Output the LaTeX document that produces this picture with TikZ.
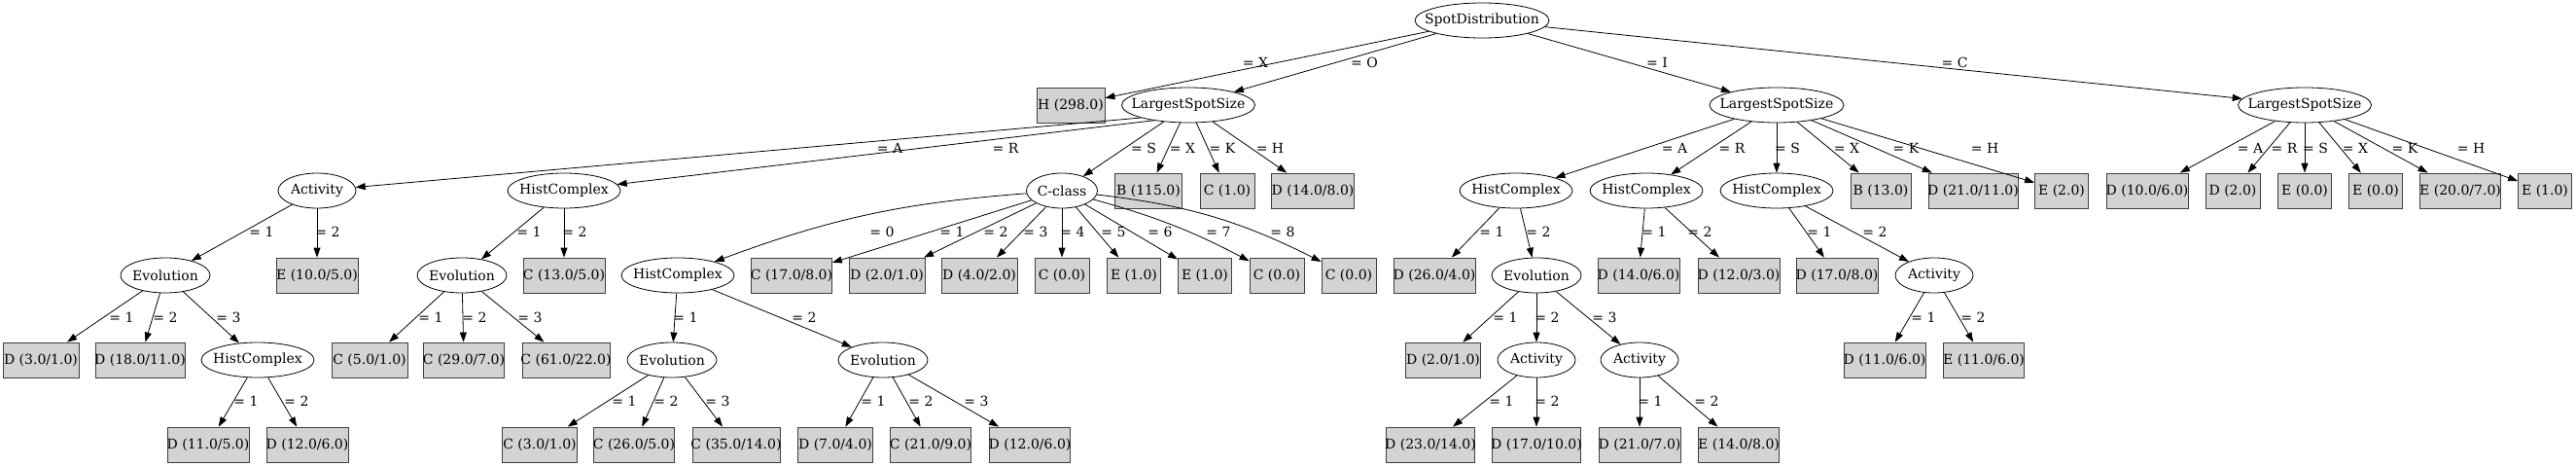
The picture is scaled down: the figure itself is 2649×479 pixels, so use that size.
\documentclass[tikz,border=0pt]{standalone}
\usepackage{fontspec}
\setmainfont{DejaVu Serif}
\usetikzlibrary{arrows.meta,shapes.geometric,positioning}
\definecolor{leafgrey}{HTML}{D3D3D3}

\begin{document}
\begin{tikzpicture}[x=1pt,y=-1pt,font=\fontsize{14}{17}\selectfont,
  attr/.style={draw,ellipse,minimum width=#1,minimum height=36pt,inner sep=0pt,line width=0.8pt},
  leaf/.style={draw=black!75,fill=leafgrey,rectangle,minimum width=#1,minimum height=36pt,inner sep=0pt,line width=0.8pt},
  edge/.style={-{Triangle[length=10pt,width=7pt]},line width=0.8pt},
  elab/.style={inner sep=0pt}]
  \useasboundingbox (0,0) rectangle (2649,479);

  % root and second rank
  \node[attr=138pt,label=center:SpotDistribution] (sd) at (1524,21) {};
  \node[leaf=70pt,label={center:H (298.0)}] (hA) at (1101,108) {};
  \node[attr=137pt,label=center:LargestSpotSize] (lssO) at (1222,108) {};
  \node[attr=138pt,label=center:LargestSpotSize] (lssI) at (1827,108) {};
  \node[attr=137pt,label=center:LargestSpotSize] (lssC) at (2370,108) {};

  % third rank
  \node[attr=80pt,label=center:Activity] (act1) at (326,196) {};
  \node[attr=116pt,label=center:HistComplex] (hc1) at (580,196) {};
  \node[attr=73pt,label=center:C-class] (cc) at (1092,196) {};
  \node[leaf=69pt,label={center:B (115.0)}] (b1) at (1181,196) {};
  \node[leaf=56pt,label={center:C (1.0)}] (c1) at (1262,196) {};
  \node[leaf=85pt,label={center:D (14.0/8.0)}] (d1) at (1350,196) {};
  \node[attr=116pt,label=center:HistComplex] (hc2) at (1559,196) {};
  \node[attr=116pt,label=center:HistComplex] (hc3) at (1693,196) {};
  \node[attr=116pt,label=center:HistComplex] (hc4) at (1827,196) {};
  \node[leaf=62pt,label={center:B (13.0)}] (b2) at (1934,196) {};
  \node[leaf=92pt,label={center:D (21.0/11.0)}] (d2) at (2029,196) {};
  \node[leaf=55pt,label={center:E (2.0)}] (e1) at (2120,196) {};
  \node[leaf=84pt,label={center:D (10.0/6.0)}] (d3) at (2208,196) {};
  \node[leaf=56pt,label={center:D (2.0)}] (d4) at (2296,196) {};
  \node[leaf=55pt,label={center:E (0.0)}] (e2) at (2370,196) {};
  \node[leaf=55pt,label={center:E (0.0)}] (e3) at (2443,196) {};
  \node[leaf=83pt,label={center:E (20.0/7.0)}] (e4) at (2530,196) {};
  \node[leaf=55pt,label={center:E (1.0)}] (e5) at (2617,196) {};

  % fourth rank
  \node[attr=92pt,label=center:Evolution] (ev1) at (170,283) {};
  \node[leaf=84pt,label={center:E (10.0/5.0)}] (e6) at (326,283) {};
  \node[attr=92pt,label=center:Evolution] (ev2) at (475,283) {};
  \node[leaf=84pt,label={center:C (13.0/5.0)}] (c2) at (580,283) {};
  \node[attr=116pt,label=center:HistComplex] (hc5) at (697,283) {};
  \node[leaf=83pt,label={center:C (17.0/8.0)}] (c3) at (814,283) {};
  \node[leaf=78pt,label={center:D (2.0/1.0)}] (d5) at (912,283) {};
  \node[leaf=78pt,label={center:D (4.0/2.0)}] (d6) at (1007,283) {};
  \node[leaf=56pt,label={center:C (0.0)}] (c4) at (1092,283) {};
  \node[leaf=55pt,label={center:E (1.0)}] (e7) at (1166,283) {};
  \node[leaf=55pt,label={center:E (1.0)}] (e8) at (1239,283) {};
  \node[leaf=56pt,label={center:C (0.0)}] (c5) at (1313,283) {};
  \node[leaf=56pt,label={center:C (0.0)}] (c6) at (1387,283) {};
  \node[leaf=84pt,label={center:D (26.0/4.0)}] (d7) at (1475,283) {};
  \node[attr=92pt,label=center:Evolution] (ev3) at (1580,283) {};
  \node[leaf=84pt,label={center:D (14.0/6.0)}] (d8) at (1685,283) {};
  \node[leaf=84pt,label={center:D (12.0/3.0)}] (d9) at (1788,283) {};
  \node[leaf=84pt,label={center:D (17.0/8.0)}] (d10) at (1889,283) {};
  \node[attr=80pt,label=center:Activity] (act2) at (1989,283) {};

  % fifth rank
  \node[leaf=78pt,label={center:D (3.0/1.0)}] (d11) at (42,370) {};
  \node[leaf=92pt,label={center:D (18.0/11.0)}] (d12) at (144,370) {};
  \node[attr=116pt,label=center:HistComplex] (hc6) at (265,370) {};
  \node[leaf=78pt,label={center:C (5.0/1.0)}] (c7) at (380,370) {};
  \node[leaf=83pt,label={center:C (29.0/7.0)}] (c8) at (477,370) {};
  \node[leaf=90pt,label={center:C (61.0/22.0)}] (c9) at (582,370) {};
  \node[attr=92pt,label=center:Evolution] (ev4) at (691,370) {};
  \node[attr=92pt,label=center:Evolution] (ev5) at (908,370) {};
  \node[leaf=77pt,label={center:D (2.0/1.0)}] (d13) at (1484,370) {};
  \node[attr=80pt,label=center:Activity] (act3) at (1580,370) {};
  \node[attr=80pt,label=center:Activity] (act4) at (1686,370) {};
  \node[leaf=84pt,label={center:D (11.0/6.0)}] (d14) at (1938,370) {};
  \node[leaf=83pt,label={center:E (11.0/6.0)}] (e9) at (2040,370) {};

  % sixth rank
  \node[leaf=84pt,label={center:D (11.0/5.0)}] (d15) at (214,457) {};
  \node[leaf=84pt,label={center:D (12.0/6.0)}] (d16) at (316,457) {};
  \node[leaf=77pt,label={center:C (3.0/1.0)}] (c10) at (555,457) {};
  \node[leaf=83pt,label={center:C (26.0/5.0)}] (c11) at (652,457) {};
  \node[leaf=90pt,label={center:C (35.0/14.0)}] (c12) at (757,457) {};
  \node[leaf=77pt,label={center:D (7.0/4.0)}] (d17) at (859,457) {};
  \node[leaf=83pt,label={center:C (21.0/9.0)}] (c13) at (957,457) {};
  \node[leaf=83pt,label={center:D (12.0/6.0)}] (d18) at (1059,457) {};
  \node[leaf=91pt,label={center:D (23.0/14.0)}] (d19) at (1471,457) {};
  \node[leaf=91pt,label={center:D (17.0/10.0)}] (d20) at (1580,457) {};
  \node[leaf=84pt,label={center:D (21.0/7.0)}] (d21) at (1686,457) {};
  \node[leaf=83pt,label={center:E (14.0/8.0)}] (e10) at (1788,457) {};

  % edges from the root
  \draw[edge] (sd) -- (hA) node[elab] at (1291,64) {= X};
  \draw[edge] (sd) -- (lssO) node[elab] at (1403,64) {= O};
  \draw[edge] (sd) -- (lssI) node[elab] at (1704,64) {= I};
  \draw[edge] (sd) -- (lssC) node[elab] at (2010,64) {= C};

  % LargestSpotSize branches
  \draw[edge] (lssO.195) -- (act1) node[elab] at (915,152) {= A};
  \draw[edge] (lssO.204) -- (hc1) node[elab] at (1034,152) {= R};
  \draw[edge] (lssO) -- (cc) node[elab] at (1176,152) {= S};
  \draw[edge] (lssO) -- (b1) node[elab] at (1216,152) {= X};
  \draw[edge] (lssO) -- (c1) node[elab] at (1257,152) {= K};
  \draw[edge] (lssO) -- (d1) node[elab] at (1306,152) {= H};
  \draw[edge] (lssI) -- (hc2) node[elab] at (1722,152) {= A};
  \draw[edge] (lssI) -- (hc3) node[elab] at (1781,152) {= R};
  \draw[edge] (lssI) -- (hc4) node[elab] at (1838,152) {= S};
  \draw[edge] (lssI) -- (b2) node[elab] at (1899,152) {= X};
  \draw[edge] (lssI) -- (d2) node[elab] at (1960,152) {= K};
  \draw[edge] (lssI) -- (e1) node[elab] at (2041,152) {= H};
  \draw[edge] (lssC) -- (d3) node[elab] at (2314,152) {= A};
  \draw[edge] (lssC) -- (d4) node[elab] at (2349,152) {= R};
  \draw[edge] (lssC) -- (e2) node[elab] at (2381,152) {= S};
  \draw[edge] (lssC) -- (e3) node[elab] at (2422,152) {= X};
  \draw[edge] (lssC) -- (e4) node[elab] at (2473,152) {= K};
  \draw[edge] (lssC) -- (e5) node[elab] at (2541,152) {= H};

  % third rank branches
  \draw[edge] (act1) -- (ev1) node[elab] at (269,238) {= 1};
  \draw[edge] (act1) -- (e6) node[elab] at (337,238) {= 2};
  \draw[edge] (hc1) -- (ev2) node[elab] at (544,238) {= 1};
  \draw[edge] (hc1) -- (c2) node[elab] at (591,238) {= 2};
  \draw[edge] (cc) to[bend right=8] (hc5) node[elab] at (907,238) {= 0};
  \draw[edge] (cc) -- (c3) node[elab] at (979,238) {= 1};
  \draw[edge] (cc) -- (d5) node[elab] at (1024,238) {= 2};
  \draw[edge] (cc) -- (d6) node[elab] at (1065,238) {= 3};
  \draw[edge] (cc) -- (c4) node[elab] at (1103,238) {= 4};
  \draw[edge] (cc) -- (e7) node[elab] at (1145,238) {= 5};
  \draw[edge] (cc) -- (e8) node[elab] at (1193,238) {= 6};
  \draw[edge] (cc) to[bend left=6] (c5) node[elab] at (1253,238) {= 7};
  \draw[edge] (cc) to[bend left=10] (c6) node[elab] at (1319,238) {= 8};
  \draw[edge] (hc2) -- (d7) node[elab] at (1534,238) {= 1};
  \draw[edge] (hc2) -- (ev3) node[elab] at (1582,238) {= 2};
  \draw[edge] (hc3) -- (d8) node[elab] at (1701,238) {= 1};
  \draw[edge] (hc3) -- (d9) node[elab] at (1748,238) {= 2};
  \draw[edge] (hc4) -- (d10) node[elab] at (1871,238) {= 1};
  \draw[edge] (hc4) -- (act2) node[elab] at (1928,238) {= 2};

  % fourth rank branches
  \draw[edge] (ev1) -- (d11) node[elab] at (125,326) {= 1};
  \draw[edge] (ev1) -- (d12) node[elab] at (170,326) {= 2};
  \draw[edge] (ev1) -- (hc6) node[elab] at (235,326) {= 3};
  \draw[edge] (ev2) -- (c7) node[elab] at (443,326) {= 1};
  \draw[edge] (ev2) -- (c8) node[elab] at (488,326) {= 2};
  \draw[edge] (ev2) -- (c9) node[elab] at (545,326) {= 3};
  \draw[edge] (hc5) -- (ev4) node[elab] at (705,326) {= 1};
  \draw[edge] (hc5) -- (ev5) node[elab] at (827,326) {= 2};
  \draw[edge] (ev3) -- (d13) node[elab] at (1548,326) {= 1};
  \draw[edge] (ev3) -- (act3) node[elab] at (1591,326) {= 2};
  \draw[edge] (ev3) -- (act4) node[elab] at (1650,326) {= 3};
  \draw[edge] (act2) -- (d14) node[elab] at (1978,326) {= 1};
  \draw[edge] (act2) -- (e9) node[elab] at (2029,326) {= 2};

  % fifth rank branches
  \draw[edge] (hc6) -- (d15) node[elab] at (253,412) {= 1};
  \draw[edge] (hc6) -- (d16) node[elab] at (305,412) {= 2};
  \draw[edge] (ev4) -- (c10) node[elab] at (642,412) {= 1};
  \draw[edge] (ev4) -- (c11) node[elab] at (685,412) {= 2};
  \draw[edge] (ev4) -- (c12) node[elab] at (738,412) {= 3};
  \draw[edge] (ev5) -- (d17) node[elab] at (898,412) {= 1};
  \draw[edge] (ev5) -- (c13) node[elab] at (947,412) {= 2};
  \draw[edge] (ev5) -- (d18) node[elab] at (1004,412) {= 3};
  \draw[edge] (act3) -- (d19) node[elab] at (1544,412) {= 1};
  \draw[edge] (act3) -- (d20) node[elab] at (1591,412) {= 2};
  \draw[edge] (act4) -- (d21) node[elab] at (1697,412) {= 1};
  \draw[edge] (act4) -- (e10) node[elab] at (1755,412) {= 2};
\end{tikzpicture}
\end{document}
